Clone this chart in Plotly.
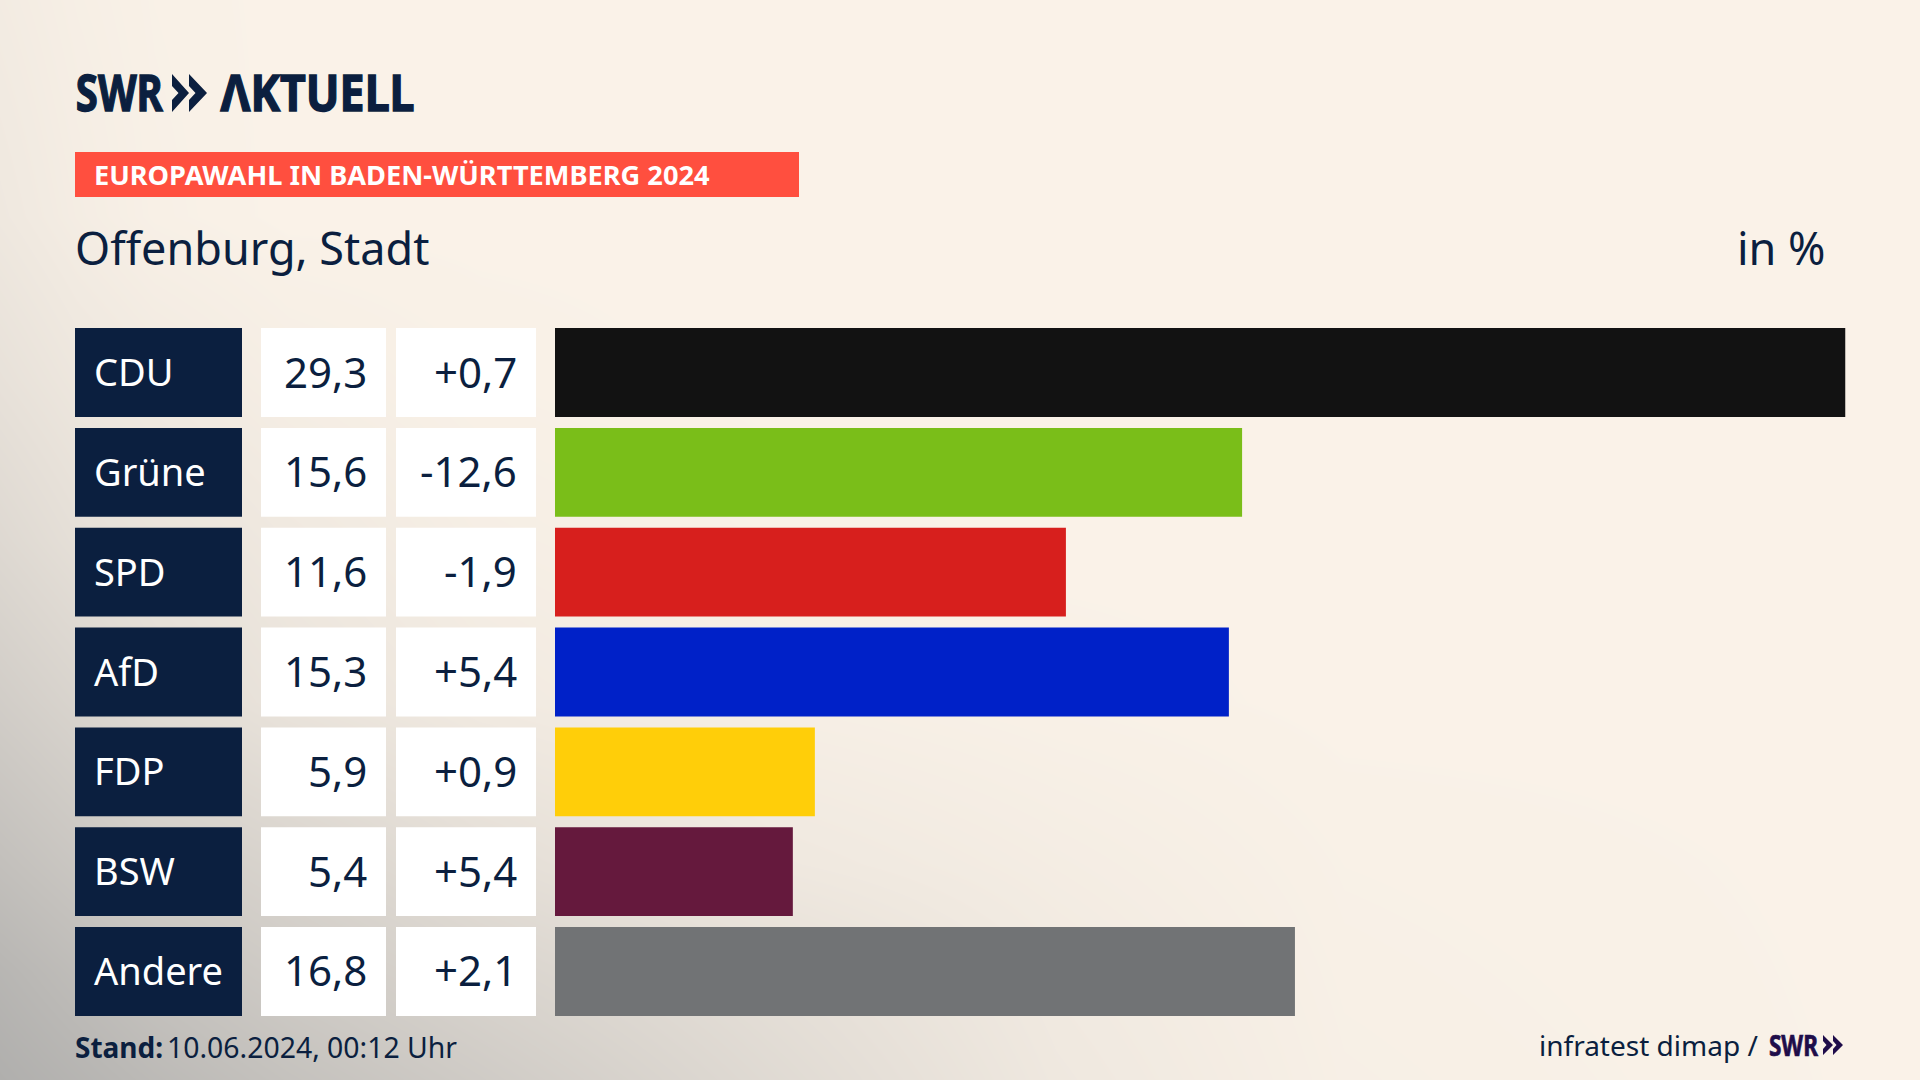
import plotly.graph_objects as go

parties = ["CDU", "Grüne", "SPD", "AfD", "FDP", "BSW", "Andere"]
shares = [29.3, 15.6, 11.6, 15.3, 5.9, 5.4, 16.8]
changes = [0.7, -12.6, -1.9, 5.4, 0.9, 5.4, 2.1]
bar_colors = ["#121212", "#7ABE19", "#D71F1D", "#0021C8", "#FFCE09", "#65193D", "#717375"]

bg_x = [0, .04, .08, .15, .25, .4, .55, .7, 1]
bg_y = [0, .2, .35, .5, .65, .8, .9, 1]
bg_z = [
    [.10, .05, .02, 0, 0, 0, 0, 0, 0],
    [.15, .08, .03, 0, 0, 0, 0, 0, 0],
    [.25, .17, .12, .06, .02, 0, 0, 0, 0],
    [.38, .28, .22, .14, .06, .02, 0, 0, 0],
    [.55, .45, .33, .22, .12, .05, .02, 0, 0],
    [.75, .65, .55, .45, .30, .15, .08, .02, 0],
    [.90, .80, .70, .58, .45, .28, .12, .03, 0],
    [1.0, .92, .84, .72, .58, .36, .15, .04, 0],
]

NAVY = "#0B1F3F"
PURPLE = "#1F0D4A"
FONT = "Noto Sans"
W, H = 1920, 1080
px = lambda x: x / W
py = lambda y: 1 - y / H


def fmt(v, sign=False):
    return (f"{v:+.1f}" if sign else f"{v:.1f}").replace(".", ",")


def chev(x, top, bot, w, notch, cut):
    mid = (top + bot) / 2
    return (f"M{px(x)},{py(top)} L{px(x+w)},{py(mid)} L{px(x)},{py(bot)} L{px(x)},{py(bot-cut)} "
            f"L{px(x+notch)},{py(mid)} L{px(x)},{py(top+cut)} Z")


fig = go.Figure()
fig.add_trace(go.Heatmap(x=bg_x, y=bg_y, z=bg_z, zmin=0, zmax=1, zsmooth="best", showscale=False,
                         hoverinfo="skip", colorscale=[[0, "#FAF2E8"], [1, "#B0AFAD"]],
                         xaxis="x", yaxis="y"))
fig.add_trace(go.Bar(x=shares, y=parties, orientation="h", width=0.89, marker=dict(color=bar_colors, line_width=0),
                     xaxis="x2", yaxis="y2"))
for ax, col in (("x3", NAVY), ("x4", "#FFFFFF"), ("x5", "#FFFFFF")):
    fig.add_trace(go.Bar(x=[1] * len(parties), y=parties, orientation="h", width=0.89,
                         marker=dict(color=col, line_width=0), xaxis=ax, yaxis="y2"))

hidden = dict(visible=False, fixedrange=True)
layout_axes = dict(
    xaxis=dict(domain=[0, 1], range=[0, 1], **hidden),
    yaxis=dict(domain=[0, 1], range=[1, 0], **hidden),
    xaxis2=dict(domain=[px(555), px(1845.5)], range=[0, max(shares)], anchor="y2", **hidden),
    yaxis2=dict(domain=[py(1021.4), py(322.6)], anchor="x2", autorange="reversed", type="category", **hidden),
    xaxis3=dict(domain=[px(75), px(242)], range=[0, 1], anchor="y2", **hidden),
    xaxis4=dict(domain=[px(261), px(386)], range=[0, 1], anchor="y2", **hidden),
    xaxis5=dict(domain=[px(396), px(536)], range=[0, 1], anchor="y2", **hidden),
)

ann = []


def text(x, y, s, size, color=NAVY, anchor="left", family=FONT, bold=False):
    ann.append(dict(x=px(x), y=py(y), xref="paper", yref="paper", text=f"<b>{s}</b>" if bold else s,
                    showarrow=False, xanchor=anchor, yanchor="middle", align=anchor,
                    font=dict(family=family, size=size, color=color), borderpad=0, borderwidth=0))


for p, s, c in zip(parties, shares, changes):
    for x, t, a, col, size in ((92, p, "left", "#FFFFFF", 38), (368.5, fmt(s), "right", NAVY, 42),
                               (518.5, fmt(c, True), "right", NAVY, 42)):
        ann.append(dict(x=px(x), y=p, xref="paper", yref="y2", yshift=1.5, text=t, showarrow=False, xanchor=a,
                        yanchor="middle", font=dict(family=FONT, size=size, color=col)))

text(119.5, 91.8, "SWR", 50, anchor="center", bold=True)
text(317, 91.8, "ΛKTUELL", 50, anchor="center", bold=True)
text(94, 175, "EUROPAWAHL IN BADEN-WÜRTTEMBERG 2024", 27.2, "#FFFFFF", bold=True)
text(75, 247.5, "Offenburg, Stadt", 45)
text(1825.5, 247.5, "in %", 45, anchor="right")
text(75, 1047, "Stand:", 28, bold=True)
text(167, 1047, "10.06.2024, 00:12 Uhr", 28.4)
text(1758, 1045, "infratest dimap /", 28, anchor="right")
text(1793.5, 1045, "SWR", 28, PURPLE, anchor="center", bold=True)

shapes = [
    dict(type="rect", xref="paper", yref="paper", x0=px(75), x1=px(799), y0=py(197), y1=py(152),
         fillcolor="#FF4F3F", line_width=0, layer="above"),
    dict(type="path", xref="paper", yref="paper", path=chev(172, 74, 112, 17, 6.5, 12), fillcolor=NAVY, line_width=0, layer="above"),
    dict(type="path", xref="paper", yref="paper", path=chev(189, 74, 112, 18, 6.5, 12), fillcolor=NAVY, line_width=0, layer="above"),
    dict(type="path", xref="paper", yref="paper", path=chev(1823, 1035, 1055, 10, 3.5, 6), fillcolor=PURPLE, line_width=0, layer="above"),
    dict(type="path", xref="paper", yref="paper", path=chev(1833, 1035, 1055, 10, 3.5, 6), fillcolor=PURPLE, line_width=0, layer="above"),
]

fig.update_layout(width=W, height=H, margin=dict(l=0, r=0, t=0, b=0), showlegend=False, barmode="overlay",
                  paper_bgcolor="#FAF2E8", plot_bgcolor="rgba(0,0,0,0)", annotations=ann, shapes=shapes, **layout_axes)

# The broadcaster's logotype is a condensed, heavy face: squeeze the logo words to their measured widths.
squeeze = """
document.body.style.margin='0';document.body.style.overflow='hidden';
var swr=[[87,1.4],[49,0.7]];
document.querySelectorAll('.annotation-text').forEach(function(el){
  var t=el.textContent, w=null;
  if(t==='SWR'){w=swr.shift();} else if(t==='ΛKTUELL'){w=[194,1.4];}
  if(w){
    [el].concat(Array.from(el.querySelectorAll('*'))).forEach(function(c){
      c.setAttribute('textLength',w[0]);c.setAttribute('lengthAdjust','spacingAndGlyphs');
    });
    el.style.stroke=el.style.fill;el.style.strokeWidth=w[1]+'px';
  }
});
"""
fig.write_html("out.html", config={"displayModeBar": False}, post_script=squeeze)
